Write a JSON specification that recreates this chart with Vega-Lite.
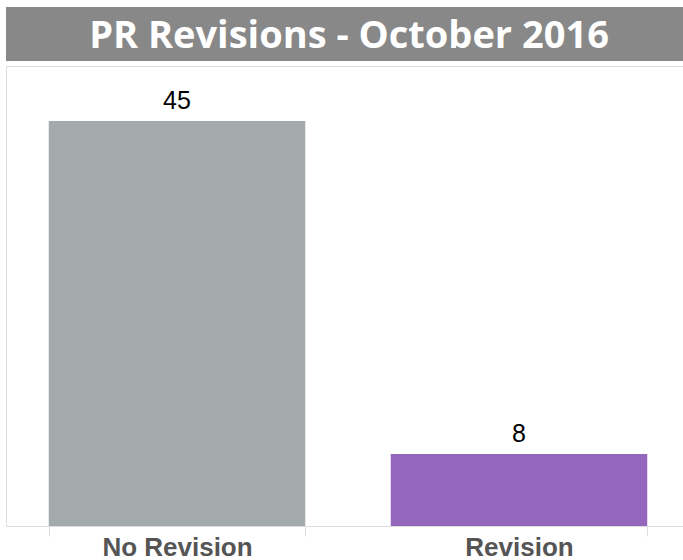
{
  "$schema": "https://vega.github.io/schema/vega-lite/v6.json",
  "padding": {"left": 5, "top": 7, "right": 0, "bottom": 0},
  "background": "white",
  "spacing": 4,
  "config": {"concat": {"spacing": 4}},
  "vconcat": [
    {
      "width": 684,
      "height": 54,
      "view": {"fill": "#888888", "stroke": null},
      "data": {"values": [{"title": "PR Revisions - October 2016"}]},
      "mark": {"type": "text", "font": "Open Sans", "fontWeight": "bold", "fontSize": 38, "color": "white", "baseline": "middle", "align": "center", "dy": 3, "dx": 1},
      "encoding": {"text": {"field": "title"}}
    },
    {
      "width": 684,
      "height": 460,
      "view": {"stroke": "#dddddd", "strokeWidth": 1},
      "data": {"values": [
        {"category": "No Revision", "count": 45},
        {"category": "Revision", "count": 8}
      ]},
      "encoding": {
        "x": {
          "field": "category", "type": "nominal", "title": null, "sort": null,
          "scale": {"paddingInner": 0.25, "paddingOuter": 0.125},
          "axis": {
            "labelAngle": 0, "labelFont": "Liberation Sans", "labelFontWeight": "bold",
            "labelFontSize": 26, "labelColor": "#555555", "domainColor": "#dddddd",
            "tickColor": "#dddddd", "tickSize": 10, "tickBand": "extent", "labelPadding": -2
          }
        },
        "y": {
          "field": "count", "type": "quantitative",
          "scale": {"domain": [0, 51.1], "nice": false},
          "axis": null
        }
      },
      "layer": [
        {
          "mark": {"type": "bar"},
          "encoding": {
            "color": {
              "field": "category", "type": "nominal",
              "scale": {"domain": ["No Revision", "Revision"], "range": ["#a3aaab", "#9467bd"]},
              "legend": null
            }
          }
        },
        {
          "mark": {"type": "text", "font": "Liberation Sans", "fontSize": 25, "color": "black", "baseline": "bottom", "dy": -7},
          "encoding": {"text": {"field": "count", "type": "quantitative"}}
        }
      ]
    }
  ]
}
